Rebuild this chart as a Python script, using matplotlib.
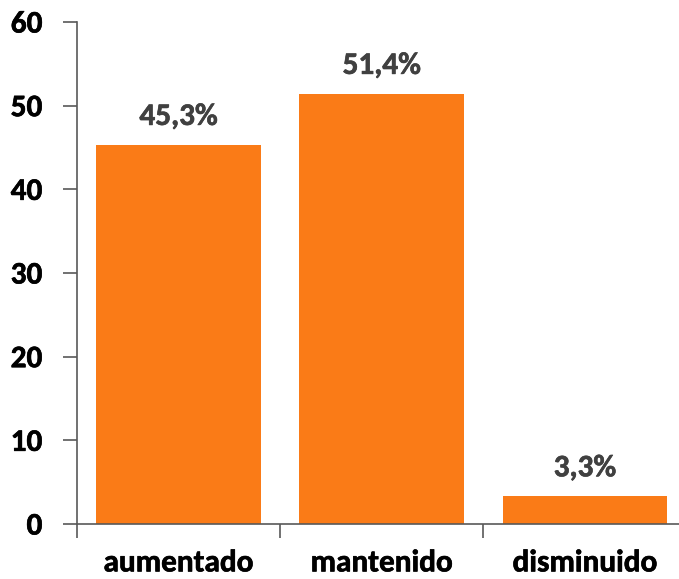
import matplotlib
matplotlib.use("Agg")
import matplotlib.pyplot as plt
import matplotlib.patheffects as pe
from matplotlib.ticker import FixedLocator

categories = ["aumentado", "mantenido", "disminuido"]
values = [45.3, 51.4, 3.3]
labels = ["45,3%", "51,4%", "3,3%"]
yticks = [0, 10, 20, 30, 40, 50, 60]

plt.rcParams['font.family'] = ['Carlito', 'DejaVu Sans']

fig = plt.figure(figsize=(6.79, 5.79), dpi=100)
ax = fig.add_axes([77/679, 1-524/579, (686.5-77)/679, (524-22)/579])

def heavy(color):
    return [pe.withStroke(linewidth=0.45, foreground=color)]

x = range(len(categories))
ax.bar(x, values, width=0.81, color="#FA7B17")
for xi, v, lab in zip(x, values, labels):
    ax.text(xi, v + 2.4, lab, ha="center", va="baseline", fontsize=22.5,
            fontweight="bold", color="#404040", path_effects=heavy("#404040"))

ax.set_xlim(-0.5, 2.5)
ax.set_ylim(0, 60)
ax.set_yticks(yticks)
ax.set_yticklabels([str(t) for t in yticks], fontsize=22.5, fontweight="bold")
ax.set_xticks(list(x))
ax.set_xticklabels(categories, fontsize=22.5, fontweight="bold")
for t in ax.get_xticklabels() + ax.get_yticklabels():
    t.set_path_effects(heavy("black"))
ax.tick_params(axis='x', length=0, pad=19)
ax.xaxis.set_minor_locator(FixedLocator([-0.5, 0.5, 1.5, 2.5]))
ax.tick_params(axis='x', which='minor', length=10, color="#595959", width=1.2)
ax.tick_params(axis='y', length=10, color="#595959", width=1.2, pad=15)

for s in ["top", "right"]:
    ax.spines[s].set_visible(False)
for s in ["left", "bottom"]:
    ax.spines[s].set_color("#595959")
    ax.spines[s].set_linewidth(1.2)
ax.spines["bottom"].set_zorder(3)

fig.savefig("out.png", dpi=100)
